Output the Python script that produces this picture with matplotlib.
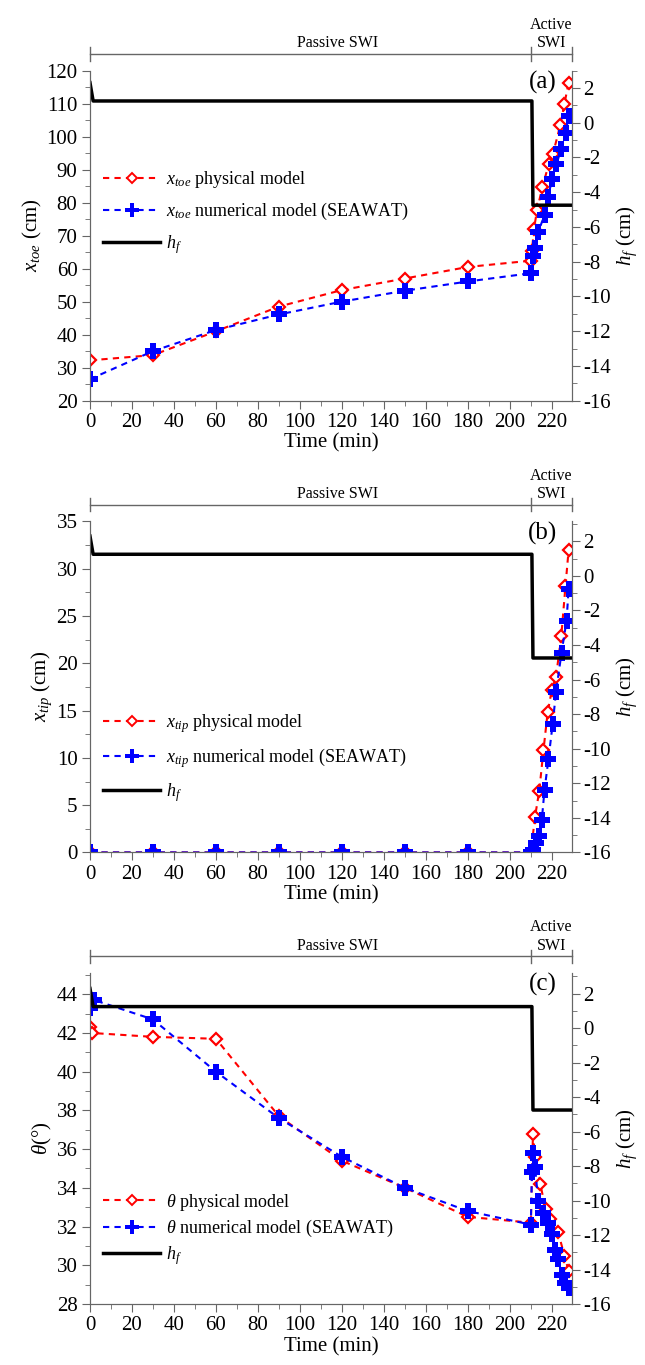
"""
Three stacked panels: x_toe, x_tip and theta versus time, with h_f on a second axis.
"""

import matplotlib
matplotlib.use("Agg")
import matplotlib.pyplot as plt
import matplotlib.transforms as mtransforms
from matplotlib.lines import Line2D
from matplotlib.ticker import MultipleLocator

plt.rcParams["font.family"] = ["Liberation Serif", "DejaVu Serif"]
plt.rcParams["mathtext.fontset"] = "custom"
plt.rcParams["mathtext.rm"] = "Liberation Serif"
plt.rcParams["mathtext.it"] = "Liberation Serif:italic"
plt.rcParams["axes.unicode_minus"] = False

# ---- data ----
# (a) x_toe
t_toe_phys = [0, 30, 60, 90, 120, 150, 180, 210, 210.5, 211.5, 213, 215.5, 218.5, 220.5, 224, 226, 228]
x_toe_phys = [32.2, 33.8, 41.0, 48.5, 53.5, 57.0, 60.5, 62.4, 65.3, 72.1, 77.9, 84.7, 91.6, 94.7, 103.4, 110.0, 116.3]
t_toe_num = [0, 30, 60, 90, 120, 150, 180, 210, 211, 212, 213.5, 216.5, 218, 220.3, 222.2, 224.5, 226.6, 228]
x_toe_num = [26.5, 35.0, 41.4, 46.1, 50.0, 53.3, 56.1, 58.6, 63.7, 66.1, 71.1, 76.2, 81.6, 87.2, 91.7, 96.3, 101.2, 106.2]

# (b) x_tip
t_tip_phys = [0, 30, 60, 90, 120, 150, 180, 210, 212, 214, 216, 218, 220, 222, 224.5, 226.5, 228]
x_tip_phys = [0, 0, 0, 0, 0, 0, 0, 0, 3.8, 6.5, 10.8, 14.8, 17.2, 18.6, 22.9, 28.2, 32.0]
t_tip_num = [0, 30, 60, 90, 120, 150, 180, 210, 211, 212.5, 214, 215.2, 216.5, 218.4, 220.4, 222, 224.6, 227, 228]
x_tip_num = [0, 0, 0, 0, 0, 0, 0, 0, 0.3, 1.0, 1.7, 3.4, 6.6, 9.9, 13.6, 17.0, 21.1, 24.5, 27.9]

# (c) theta
t_th_phys = [0, 1, 30, 60, 90, 120, 150, 180, 210, 211, 212, 214.5, 217, 219, 223, 226, 228]
th_phys = [42.3, 42.0, 41.8, 41.7, 37.7, 35.4, 34.0, 32.5, 32.2, 36.8, 35.6, 34.2, 32.9, 32.4, 31.7, 30.5, 29.7]
t_th_num = [0, 2, 30, 60, 90, 120, 150, 180, 210, 210.5, 211, 212, 213.5, 216, 218, 220, 221.5, 223, 225, 226.5, 228]
th_num = [43.3, 43.7, 42.7, 40.0, 37.6, 35.6, 34.0, 32.8, 32.1, 34.8, 35.8, 35.1, 33.3, 32.7, 32.2, 31.6, 30.8, 30.3, 29.5, 29.1, 28.8]

# h_f (right axis), same in all three panels
hf_time = [0, 1.5, 210.5, 211.0, 229.5]
hf = [2.3, 1.25, 1.25, -4.75, -4.75]

GRAY = "#666666"
DASH = (0, (3, 2.5))


def draw_panel(rect, t_p, y_p, t_n, y_n, sym, ylabel, ylim, major, hf_top,
               tag, leg_y, leg_space):
    ax = fig.add_axes(rect)
    ax.plot(t_p, y_p, color="red", ls=DASH, lw=1.5, marker="D", ms=6,
            mfc="white", mec="red", mew=1.6, zorder=3)
    ax.plot(t_n, y_n, color="blue", ls=DASH, lw=1.5, marker="P", ms=11,
            mfc="blue", mec="blue", mew=0, zorder=4)
    ax.set_xlim(0, 229.5)
    ax.set_ylim(*ylim)
    ax.xaxis.set_major_locator(MultipleLocator(20))
    ax.xaxis.set_minor_locator(MultipleLocator(10))
    ax.yaxis.set_major_locator(MultipleLocator(major))
    ax.yaxis.set_minor_locator(MultipleLocator(major / 2))
    ax.set_xlabel("Time (min)", fontsize=15, labelpad=1)
    ax.set_ylabel(ylabel, fontsize=15, labelpad=2)

    ax2 = ax.twinx()
    ax2.plot(hf_time, hf, color="black", lw=2.5, zorder=2)
    ax2.set_ylim(-16, hf_top)
    ax2.yaxis.set_major_locator(MultipleLocator(2))
    ax2.yaxis.set_minor_locator(MultipleLocator(1))
    ax2.set_ylabel("$h_f$ (cm)", fontsize=15, labelpad=3)

    for a in (ax, ax2):
        a.spines["top"].set_visible(False)
        for s in a.spines.values():
            s.set_color(GRAY)
        a.tick_params(which="both", direction="out", color=GRAY, labelsize=15, pad=3)
        a.tick_params(which="major", length=6)
        a.tick_params(which="minor", length=3.5)
    ax2.tick_params(axis="y", pad=2)

    # Passive / Active bracket above the axes
    tr = mtransforms.blended_transform_factory(ax.transData, ax.transAxes)
    yb = 1.05
    ax.plot([0, 229.5], [yb, yb], transform=tr, clip_on=False, color=GRAY, lw=1)
    for xv in (0, 210, 229.5):
        ax.plot([xv, xv], [yb - 0.02, yb + 0.02], transform=tr, clip_on=False,
                color=GRAY, lw=1)
    ax.text(118, yb + 0.008, "Passive SWI", transform=tr, ha="center", va="bottom",
            fontsize=11.5)
    ax.text(219.7, yb + 0.008, "Active\nSWI", transform=tr, ha="center", va="bottom",
            fontsize=11.5, linespacing=1.2)

    ax.text(0.94, 0.965, tag, transform=ax.transAxes, ha="center", va="center",
            fontsize=18)

    handles = [
        Line2D([], [], color="red", ls=DASH, lw=1.5, marker="D", ms=5,
               mfc="white", mec="red", mew=1.4),
        Line2D([], [], color="blue", ls=DASH, lw=1.5, marker="P", ms=10,
               mfc="blue", mew=0),
        Line2D([], [], color="black", lw=2.5),
    ]
    labels = [f"{sym} physical model", f"{sym} numerical model (SEAWAT)", "$h_f$"]
    ax2.legend(handles, labels, loc="center left", bbox_to_anchor=(0.0, leg_y),
               frameon=False, fontsize=13, handlelength=3.2, handletextpad=0.3,
               labelspacing=leg_space, borderaxespad=0.3)
    return ax, ax2


fig = plt.figure(figsize=(6.45, 13.65), dpi=100)

draw_panel([0.1395, 0.7065, 0.747, 0.2418], t_toe_phys, x_toe_phys, t_toe_num, x_toe_num,
           "$x_{toe}$", "$x_{toe}$ (cm)", (20, 120), 10, 3.0, "(a)", 0.57, 0.6)
draw_panel([0.1395, 0.3755, 0.747, 0.2425], t_tip_phys, x_tip_phys, t_tip_num, x_tip_num,
           "$x_{tip}$", "$x_{tip}$ (cm)", (0, 35), 5, 3.15, "(b)", 0.285, 0.6)
draw_panel([0.1395, 0.0447, 0.747, 0.2425], t_th_phys, th_phys, t_th_num, th_num,
           r"$\theta$", r"$\theta$(°)", (28, 45.1), 2, 3.2, "(c)", 0.225, 0.3)

fig.savefig("out.png", dpi=100)
